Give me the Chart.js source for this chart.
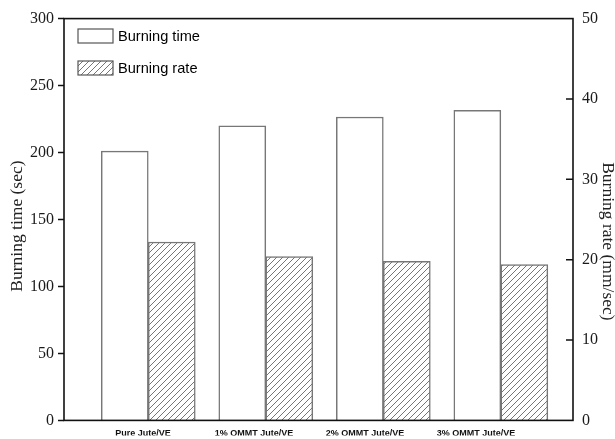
<!DOCTYPE html>
<html>
<head>
<meta charset="utf-8">
<script src="https://cdn.jsdelivr.net/npm/chart.js@4/dist/chart.umd.min.js"></script>
<style>
  html,body{margin:0;padding:0;background:#fff;}
  #wrap{width:615px;height:439px;position:relative;}
</style>
</head>
<body>
<div id="wrap"><canvas id="c" width="615" height="439"></canvas></div>
<script>
const categories = ['Pure Jute/VE', '1% OMMT Jute/VE', '2% OMMT Jute/VE', '3% OMMT Jute/VE'];
const burningTime = [201, 220, 226.5, 231.5];
const burningRate = [22.2, 20.4, 19.8, 19.4];
const leftTicks = [0, 50, 100, 150, 200, 250, 300];
const rightTicks = [0, 10, 20, 30, 40, 50];

function makeHatch() {
  const s = 6;
  const p = document.createElement('canvas');
  p.width = s; p.height = s;
  const g = p.getContext('2d');
  g.fillStyle = '#fff';
  g.fillRect(0, 0, s, s);
  g.strokeStyle = '#666';
  g.lineWidth = 0.9;
  g.beginPath();
  g.moveTo(0, s); g.lineTo(s, 0);
  g.moveTo(-1, 1); g.lineTo(1, -1);
  g.moveTo(s - 1, s + 1); g.lineTo(s + 1, s - 1);
  g.stroke();
  return document.getElementById('c').getContext('2d').createPattern(p, 'repeat');
}
const hatch = makeHatch();

const framePlugin = {
  id: 'frame',
  afterDraw(chart) {
    const ctx = chart.ctx, a = chart.chartArea;
    ctx.save();
    ctx.strokeStyle = '#111';
    ctx.lineWidth = 1.6;
    ctx.strokeRect(a.left, a.top, a.right - a.left, a.bottom - a.top);
    const y1 = chart.scales.y1;
    ctx.lineWidth = 1.4;
    ctx.beginPath();
    y1.ticks.forEach(t => {
      if (t.value <= 0 || t.value >= 50) return;
      const py = y1.getPixelForValue(t.value);
      ctx.moveTo(a.right - 7, py);
      ctx.lineTo(a.right, py);
    });
    ctx.stroke();
    const items = chart.data.datasets;
    ctx.font = '14.6px "Liberation Sans", Arial, sans-serif';
    ctx.textBaseline = 'middle';
    items.forEach((ds, i) => {
      const bx = 78, by = 29 + i * 32, bw = 35, bh = 14;
      ctx.fillStyle = ds.backgroundColor;
      ctx.fillRect(bx, by, bw, bh);
      ctx.strokeStyle = '#555';
      ctx.lineWidth = 1.2;
      ctx.strokeRect(bx, by, bw, bh);
      ctx.fillStyle = '#000';
      ctx.fillText(ds.label, bx + 40, by + bh / 2 + 0.5);
    });
    ctx.restore();
  }
};

new Chart(document.getElementById('c'), {
  type: 'bar',
  data: {
    datasets: [
      {
        label: 'Burning time',
        data: burningTime.map((v, i) => ({ x: i, y: v })),
        backgroundColor: '#ffffff',
        borderColor: '#777',
        borderWidth: 1.5,
        yAxisID: 'y',
        xAxisID: 'x'
      },
      {
        label: 'Burning rate',
        data: burningRate.map((v, i) => ({ x: i, y: v })),
        backgroundColor: hatch,
        borderColor: '#777',
        borderWidth: 1.5,
        yAxisID: 'y1',
        xAxisID: 'x'
      }
    ]
  },
  plugins: [framePlugin],
  options: {
    responsive: false,
    animation: false,
    layout: { padding: { top: 16, left: 0, right: 0, bottom: 0 } },
    barThickness: 47,
    plugins: { legend: { display: false }, tooltip: { enabled: false } },
    scales: {
      x: {
        type: 'linear',
        display: false,
        offset: false,
        min: -0.717,
        max: 3.614,
        afterBuildTicks: s => { s.ticks = [0, 1, 2, 3].map(v => ({ value: v })); }
      },
      xl: {
        type: 'linear',
        position: 'bottom',
        offset: false,
        min: -0.712,
        max: 3.874,
        afterBuildTicks: s => { s.ticks = categories.map((c, i) => ({ value: i })); },
        afterFit: s => { s.height = 15; },
        grid: { display: false, drawTicks: false },
        border: { display: false },
        ticks: {
          padding: 8,
          maxRotation: 0,
          autoSkip: false,
          color: '#111',
          font: { family: '"Liberation Sans", Arial, sans-serif', size: 9, weight: 'bold' },
          callback: v => categories[v]
        }
      },
      y: {
        position: 'left',
        min: 0,
        max: 300,
        afterBuildTicks: s => { s.ticks = leftTicks.map(v => ({ value: v })); },
        afterFit: s => { s.width = 64; },
        grid: { drawOnChartArea: false, tickLength: 6, tickColor: '#111', tickWidth: 1.5 },
        border: { display: false },
        ticks: {
          padding: 4,
          color: '#1a1a1a',
          font: { family: '"Liberation Serif", "Times New Roman", serif', size: 16 }
        },
        title: {
          display: true,
          text: 'Burning time (sec)   ',
          color: '#222',
          padding: { top: 7, bottom: 0 },
          font: { family: '"Liberation Serif", "Times New Roman", serif', size: 17.5 }
        }
      },
      y1: {
        position: 'right',
        min: 0,
        max: 50,
        afterBuildTicks: s => { s.ticks = rightTicks.map(v => ({ value: v })); },
        afterFit: s => { s.width = 42; },
        grid: { drawOnChartArea: false, drawTicks: false },
        border: { display: false },
        ticks: {
          padding: 9,
          color: '#1a1a1a',
          font: { family: '"Liberation Serif", "Times New Roman", serif', size: 16 }
        },
        title: {
          display: true,
          text: '          Burning rate (mm/sec)',
          color: '#222',
          padding: { top: -3, bottom: 0 },
          font: { family: '"Liberation Serif", "Times New Roman", serif', size: 17.5 }
        }
      }
    }
  }
});
</script>
</body>
</html>
